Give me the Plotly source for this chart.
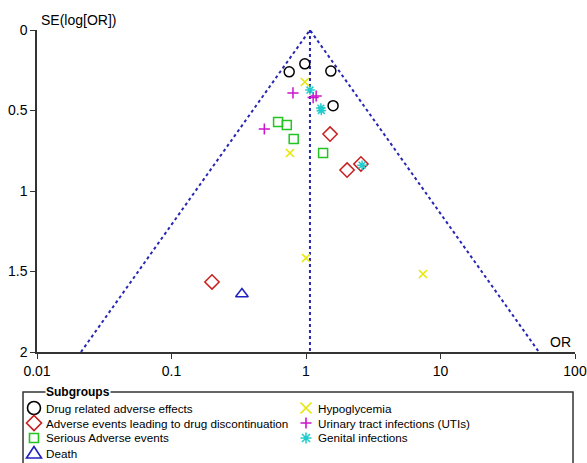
import plotly.graph_objects as go
import numpy as np

# ---- data (OR, SE(log OR)) per subgroup ----
drug_or = [0.75, 0.98, 1.53, 1.59]
drug_se = [0.26, 0.21, 0.255, 0.47]

disc_or = [1.51, 2.02, 2.56, 0.20]
disc_se = [0.646, 0.87, 0.832, 1.565]

serious_or = [0.62, 0.72, 0.81, 1.34]
serious_se = [0.571, 0.59, 0.677, 0.764]

death_or = [0.334]
death_se = [1.64]

hypo_or = [0.98, 0.76, 1.0, 7.41]
hypo_se = [0.323, 0.764, 1.416, 1.516]

uti_or = [0.80, 0.49, 1.13, 1.19]
uti_se = [0.391, 0.615, 0.42, 0.41]

genital_or = [1.07, 1.29, 1.30, 2.61]
genital_se = [0.373, 0.485, 0.50, 0.84]

pooled_or = 1.07
se_max = 2.0
x_ticks = [0.01, 0.1, 1, 10, 100]
x_tick_labels = ["0.01", "0.1", "1", "10", "100"]
y_ticks = [0, 0.5, 1, 1.5, 2]
y_tick_labels = ["0", "0.5", "1", "1.5", "2"]

subgroup_names = ["Drug related adverse effects",
                  "Adverse events leading to drug discontinuation",
                  "Serious Adverse events", "Death",
                  "Hypoglycemia", "Urinary tract infections (UTIs)",
                  "Genital infections"]
subgroup_colors = ["black", "#c81e1e", "#22c422", "#2020c0",
                   "#e6e600", "#cc14cc", "#22cccc"]
subgroup_symbols = ["circle-open", "diamond-open", "square-open", "triangle-up-open",
                    "x-thin-open", "cross-thin-open", "asterisk-open"]
marker_sizes = [10, 11, 9, 11, 8, 8, 8]
subgroup_x = [drug_or, disc_or, serious_or, death_or, hypo_or, uti_or, genital_or]
subgroup_y = [drug_se, disc_se, serious_se, death_se, hypo_se, uti_se, genital_se]

# legend swatch outlines (pixel offsets around the swatch centre)
swatch_paths = [
    None,  # circle drawn as circle shape
    "M -7.5 0 L 0 7.5 L 7.5 0 L 0 -7.5 Z",
    "M -4.5 -4.5 L 4.5 -4.5 L 4.5 4.5 L -4.5 4.5 Z",
    "M -7.5 -5 L 7.5 -5 L 0 6.5 Z",
    "M -5.5 -5.5 L 5.5 5.5 M -5.5 5.5 L 5.5 -5.5",
    "M -5.5 0 L 5.5 0 M 0 -5.5 L 0 5.5",
    "M -5.5 0 L 5.5 0 M 0 -5.5 L 0 5.5 M -4 -4 L 4 4 M -4 4 L 4 -4",
]

fig = go.Figure()

# funnel lines (pooled estimate +/- 1.96 SE)
funnel_color = "#2727b5"
lo = pooled_or * np.exp(-1.96 * se_max)
hi = pooled_or * np.exp(1.96 * se_max)
fig.add_trace(go.Scatter(x=[lo, pooled_or, hi], y=[se_max, 0, se_max], mode="lines",
                         line=dict(color=funnel_color, width=2, dash="3px,3px"),
                         showlegend=False, hoverinfo="skip"))
fig.add_trace(go.Scatter(x=[pooled_or, pooled_or], y=[0, se_max], mode="lines",
                         line=dict(color=funnel_color, width=2, dash="3px,3px"),
                         showlegend=False, hoverinfo="skip"))

for name, xs, ys, sym, col, sz in zip(subgroup_names, subgroup_x, subgroup_y,
                                      subgroup_symbols, subgroup_colors, marker_sizes):
    fig.add_trace(go.Scatter(x=xs, y=ys, mode="markers", name=name, showlegend=False,
                             marker=dict(symbol=sym, size=sz, color=col,
                                         line=dict(color=col, width=1.5))))

font_family = "Liberation Sans, Arial, sans-serif"

# ---- legend box (layout) ----
annotations = [
    dict(text="<b>Subgroups</b>", xref="paper", yref="paper", x=0.0149, y=-0.1242,
         xanchor="left", yanchor="middle", showarrow=False, bgcolor="white",
         borderpad=0, font=dict(size=12)),
    dict(text="SE(log[OR])", xref="paper", yref="paper", x=0.004, y=1.031,
         xanchor="left", yanchor="middle", showarrow=False, font=dict(size=14)),
    dict(text="OR", xref="paper", yref="paper", x=0.996, y=0.031,
         xanchor="right", yanchor="middle", showarrow=False, font=dict(size=14)),
]
shapes = [dict(type="rect", xref="paper", yref="paper", x0=-0.026, x1=0.9963,
               y0=-0.37, y1=-0.1242, line=dict(color="#333", width=1.5), layer="below")]

row_y = [-0.174, -0.2205, -0.267, -0.3137]
col_sym_x = [-0.0056, 0.5]
col_txt_x = [0.0149, 0.5204]
for i, (name, col, path) in enumerate(zip(subgroup_names, subgroup_colors, swatch_paths)):
    c = 0 if i < 4 else 1
    r = i if i < 4 else i - 4
    common = dict(xref="paper", yref="paper", xsizemode="pixel", ysizemode="pixel",
                  xanchor=col_sym_x[c], yanchor=row_y[r],
                  line=dict(color=col, width=1.6))
    if path is None:
        shapes.append(dict(type="circle", x0=-6.5, x1=6.5, y0=-6.5, y1=6.5, **common))
    else:
        shapes.append(dict(type="path", path=path, **common))
    annotations.append(dict(text=name, xref="paper", yref="paper", x=col_txt_x[c],
                            y=row_y[r], xanchor="left", yanchor="middle",
                            showarrow=False, borderpad=0,
                            font=dict(size=11.7, color="black")))

fig.update_layout(
    width=587, height=463,
    margin=dict(l=37, r=12, t=30, b=111, autoexpand=False),
    plot_bgcolor="white", paper_bgcolor="white",
    font=dict(family=font_family, color="black"),
    showlegend=False,
    xaxis=dict(type="log", range=[-2, 2], tickvals=x_ticks, ticktext=x_tick_labels,
               showgrid=False, zeroline=False, showline=True, linecolor="#333",
               linewidth=1.5, ticks="outside", ticklen=5, tickcolor="#333",
               tickfont=dict(size=14, color="black")),
    yaxis=dict(range=[2, 0], tickvals=y_ticks, ticktext=y_tick_labels,
               showgrid=False, zeroline=False, showline=True, linecolor="#333",
               linewidth=1.5, ticks="outside", ticklen=5, tickcolor="#333",
               tickfont=dict(size=14, color="black")),
    shapes=shapes,
    annotations=annotations,
)

fig.write_html("out.html", config={"displayModeBar": False},
               post_script="document.body.style.margin='0';"
                           "document.body.style.overflow='hidden';")
